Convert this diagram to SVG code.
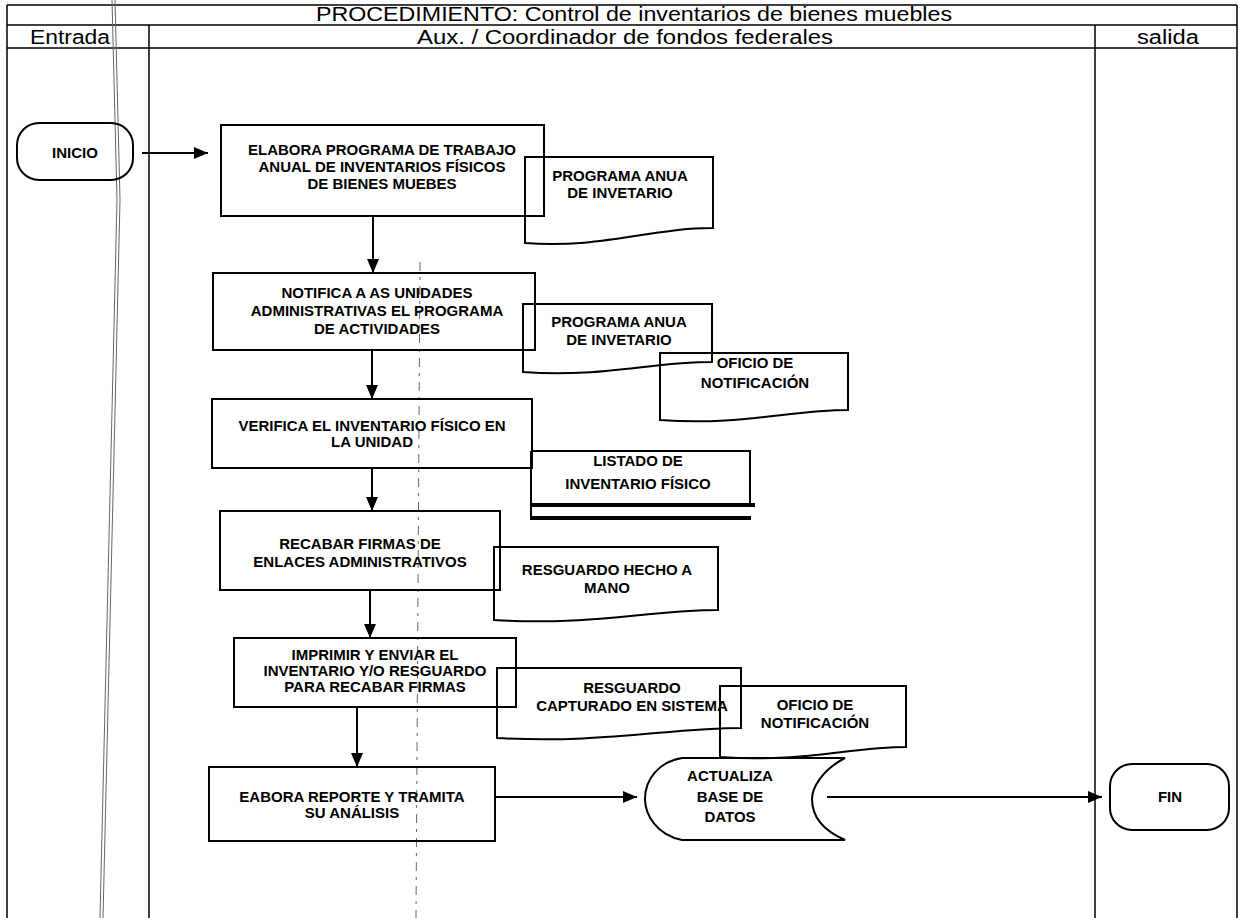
<svg xmlns="http://www.w3.org/2000/svg" width="1244" height="918" viewBox="0 0 1244 918">
  <defs>
    <marker id="arrow" viewBox="0 0 14 12" refX="14" refY="6" markerWidth="14" markerHeight="12" markerUnits="userSpaceOnUse" orient="auto">
      <path d="M0,0 L14,6 L0,12 Z" fill="#000"/>
    </marker>
    <style>
      .frame { fill: none; stroke: #000; stroke-width: 1.5; }
      .shape { fill: none; stroke: #000; stroke-width: 2; }
      .flow { fill: none; stroke: #000; stroke-width: 2; }
      .head { font-family: "Liberation Sans", Arial, sans-serif; font-size: 20px; fill: #000; text-anchor: middle; }
      .lbl { font-family: "Liberation Sans", Arial, sans-serif; font-size: 15px; font-weight: bold; fill: #000; text-anchor: middle; }
      .faint { fill: none; stroke: #666; stroke-width: 1; }
    </style>
  </defs>
  <rect width="1244" height="918" fill="#fff"/>

  <!-- swimlane table -->
  <g id="table">
    <path class="frame" d="M7,5 H1237 M7,25 H1237 M7,48 H1237 M7,5 V918 M1237,5 V918 M149,25 V918 M1095,25 V918"/>
    <text class="head" x="634" y="21" textLength="636" lengthAdjust="spacingAndGlyphs">PROCEDIMIENTO: Control de inventarios de bienes muebles</text>
    <text class="head" x="70" y="44" textLength="80" lengthAdjust="spacingAndGlyphs">Entrada</text>
    <text class="head" x="625" y="44" textLength="416" lengthAdjust="spacingAndGlyphs">Aux. / Coordinador de fondos federales</text>
    <text class="head" x="1168" y="44" textLength="62" lengthAdjust="spacingAndGlyphs">salida</text>
  </g>

  <!-- light vertical rules -->
  <g id="rules">
    <path class="faint" d="M112,0 L117,200 L100,918 M115,0 L120,200 L103,918"/>
    <path class="faint" stroke-dasharray="9 6 3 6" d="M420,262 L416,918"/>
  </g>

  <g id="inicio">
    <rect class="shape" x="17" y="123" width="116" height="57" rx="22"/>
    <text class="lbl" x="75" y="158">INICIO</text>
  </g>

  <g id="elabora">
    <rect class="shape" x="221" y="125" width="323" height="91"/>
    <text class="lbl" x="382" y="155">ELABORA PROGRAMA DE TRABAJO</text>
    <text class="lbl" x="382" y="172">ANUAL DE INVENTARIOS FÍSICOS</text>
    <text class="lbl" x="382" y="189">DE BIENES MUEBES</text>
  </g>

  <g id="doc-programa-1">
    <path class="shape" d="M525,157 H713 V228 C650,228 600,249 525,243 Z"/>
    <text class="lbl" x="620" y="181">PROGRAMA ANUA</text>
    <text class="lbl" x="620" y="198">DE INVETARIO</text>
  </g>

  <g id="notifica">
    <rect class="shape" x="213" y="273" width="322" height="77"/>
    <text class="lbl" x="377" y="298">NOTIFICA A AS UNIDADES</text>
    <text class="lbl" x="377" y="316">ADMINISTRATIVAS EL PROGRAMA</text>
    <text class="lbl" x="377" y="334">DE ACTIVIDADES</text>
  </g>

  <g id="doc-programa-2">
    <path class="shape" d="M523,304 H712 V362 C650,362 600,378 523,372 Z"/>
    <text class="lbl" x="619" y="327">PROGRAMA ANUA</text>
    <text class="lbl" x="619" y="345">DE INVETARIO</text>
  </g>

  <g id="doc-oficio-1">
    <path class="shape" d="M660,353 H848 V410 C790,410 740,426 660,420 Z"/>
    <text class="lbl" x="755" y="368">OFICIO DE</text>
    <text class="lbl" x="755" y="388">NOTIFICACIÓN</text>
  </g>

  <g id="verifica">
    <rect class="shape" x="212" y="399" width="320" height="69"/>
    <text class="lbl" x="372" y="431">VERIFICA EL INVENTARIO FÍSICO EN</text>
    <text class="lbl" x="372" y="447">LA UNIDAD</text>
  </g>

  <g id="listado">
    <path class="shape" d="M531,451 H750 V505 M531,451 V520"/>
    <path fill="none" stroke="#000" stroke-width="4" d="M531,505 H755 M531,518 H751"/>
    <text class="lbl" x="638" y="466">LISTADO DE</text>
    <text class="lbl" x="638" y="489">INVENTARIO FÍSICO</text>
  </g>

  <g id="recabar">
    <rect class="shape" x="220" y="511" width="280" height="79"/>
    <text class="lbl" x="360" y="549">RECABAR FIRMAS DE</text>
    <text class="lbl" x="360" y="567">ENLACES ADMINISTRATIVOS</text>
  </g>

  <g id="doc-resguardo-mano">
    <path class="shape" d="M494,547 H718 V610 C650,610 590,626 494,620 Z"/>
    <text class="lbl" x="607" y="575">RESGUARDO HECHO A</text>
    <text class="lbl" x="607" y="593">MANO</text>
  </g>

  <g id="imprimir">
    <rect class="shape" x="234" y="638" width="282" height="69"/>
    <text class="lbl" x="375" y="660">IMPRIMIR Y ENVIAR EL</text>
    <text class="lbl" x="375" y="676">INVENTARIO Y/O RESGUARDO</text>
    <text class="lbl" x="375" y="692">PARA RECABAR FIRMAS</text>
  </g>

  <g id="doc-resguardo-sistema">
    <path class="shape" d="M497,668 H741 V728 C670,728 600,744 497,738 Z"/>
    <text class="lbl" x="632" y="693">RESGUARDO</text>
    <text class="lbl" x="632" y="711">CAPTURADO EN SISTEMA</text>
  </g>

  <g id="doc-oficio-2">
    <path class="shape" d="M720,686 H906 V747 C850,747 800,763 720,757 Z"/>
    <text class="lbl" x="815" y="710">OFICIO DE</text>
    <text class="lbl" x="815" y="728">NOTIFICACIÓN</text>
  </g>

  <g id="reporte">
    <rect class="shape" x="209" y="767" width="286" height="74"/>
    <text class="lbl" x="352" y="802">EABORA REPORTE Y TRAMITA</text>
    <text class="lbl" x="352" y="818">SU ANÁLISIS</text>
  </g>

  <g id="base-datos">
    <path class="shape" d="M682,758 H845 C822,770 812,788 812,799 C812,815 822,830 845,840 H682 C657,835 645,815 645,799 C645,780 658,762 682,758 Z"/>
    <text class="lbl" x="730" y="781">ACTUALIZA</text>
    <text class="lbl" x="730" y="802">BASE DE</text>
    <text class="lbl" x="730" y="822">DATOS</text>
  </g>

  <g id="fin">
    <rect class="shape" x="1110" y="764" width="119" height="66" rx="22"/>
    <text class="lbl" x="1170" y="802">FIN</text>
  </g>

  <g id="connectors">
    <line class="flow" x1="142" y1="153" x2="208" y2="153" marker-end="url(#arrow)"/>
    <line class="flow" x1="373" y1="216" x2="373" y2="273" marker-end="url(#arrow)"/>
    <line class="flow" x1="372" y1="350" x2="372" y2="399" marker-end="url(#arrow)"/>
    <line class="flow" x1="372" y1="468" x2="372" y2="511" marker-end="url(#arrow)"/>
    <line class="flow" x1="370" y1="590" x2="370" y2="638" marker-end="url(#arrow)"/>
    <line class="flow" x1="357" y1="707" x2="357" y2="767" marker-end="url(#arrow)"/>
    <line class="flow" x1="495" y1="797" x2="637" y2="797" marker-end="url(#arrow)"/>
    <line class="flow" x1="827" y1="797" x2="1102" y2="797" marker-end="url(#arrow)"/>
  </g>
</svg>
